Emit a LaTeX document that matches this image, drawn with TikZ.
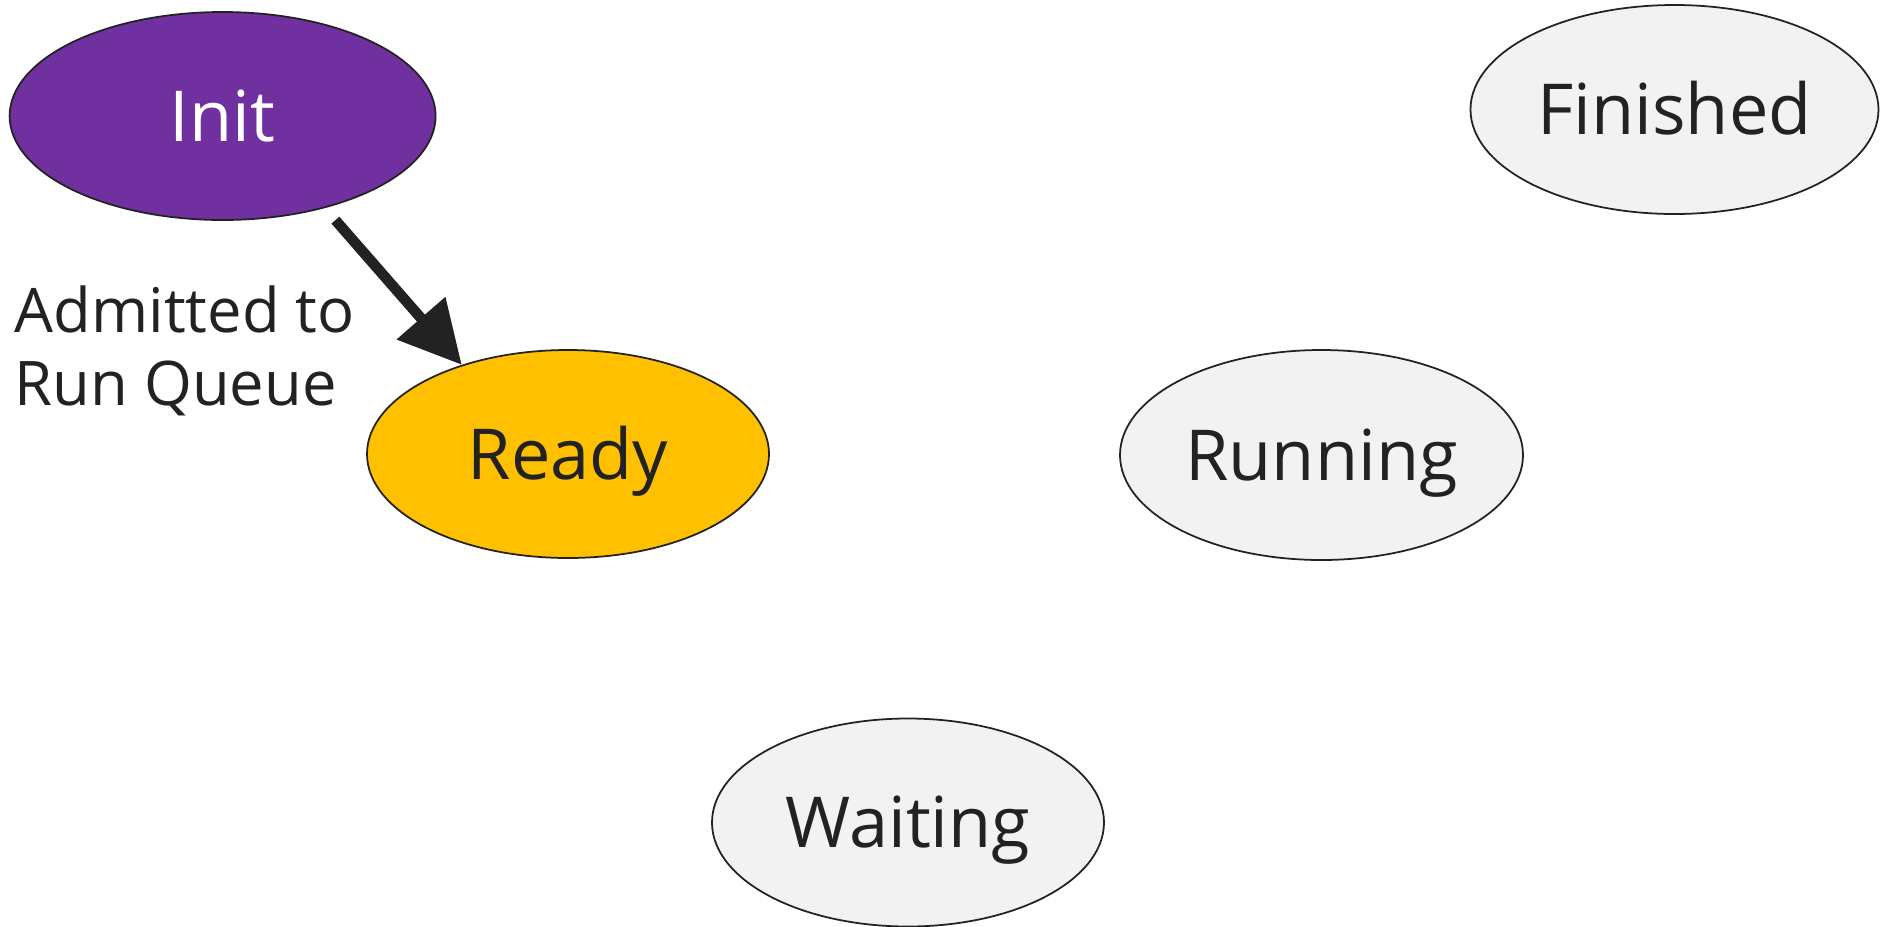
\documentclass[tikz,border=0pt]{standalone}
\usepackage{fontspec}
\setmainfont{Open Sans}
\usepackage{tikz}
\usetikzlibrary{shapes.geometric, arrows.meta}
\definecolor{ink}{HTML}{222222}
\definecolor{initfill}{HTML}{7030A0}
\definecolor{readyfill}{HTML}{FFC000}
\definecolor{idlefill}{HTML}{F2F2F2}
\tikzstyle{arrow} = [draw=ink, line width=3pt, -{Triangle[length=6.2mm, width=6.2mm]}]
\tikzstyle{state} = [ellipse, draw=ink, line width=0.5pt, inner sep=0pt, text=ink,
  font=\fontsize{20}{24}\selectfont, text height=14.3pt, text depth=0pt]

\begin{document}
\begin{tikzpicture}[label text/.style={align=left, inner sep=0pt, text=ink, font=\fontsize{17.5}{20.8}\selectfont}]
  \useasboundingbox (0,0) rectangle (18.87,-9.26);

  % States
  \node[state, fill=initfill, text=white, minimum width=4.26cm, minimum height=2.08cm] (init) at (2.226,-1.16) {Init};
  \node[state, fill=readyfill, minimum width=4.02cm, minimum height=2.08cm] (ready) at (5.68,-4.54) {Ready};
  \node[state, fill=idlefill, minimum width=4.03cm, minimum height=2.10cm] (running) at (13.215,-4.55) {Running};
  \node[state, fill=idlefill, minimum width=4.08cm, minimum height=2.09cm] (finished) at (16.745,-1.095) {Finished};
  \node[state, fill=idlefill, minimum width=3.92cm, minimum height=2.08cm] (waiting) at (9.08,-8.225) {Waiting};

  % Transition
  \draw[arrow, shorten <=1.6mm] (init.-42) -- (ready.140);
  \node[label text, anchor=west] (admit) at (0.14,-3.51) {Admitted to\\Run Queue};
\end{tikzpicture}
\end{document}
